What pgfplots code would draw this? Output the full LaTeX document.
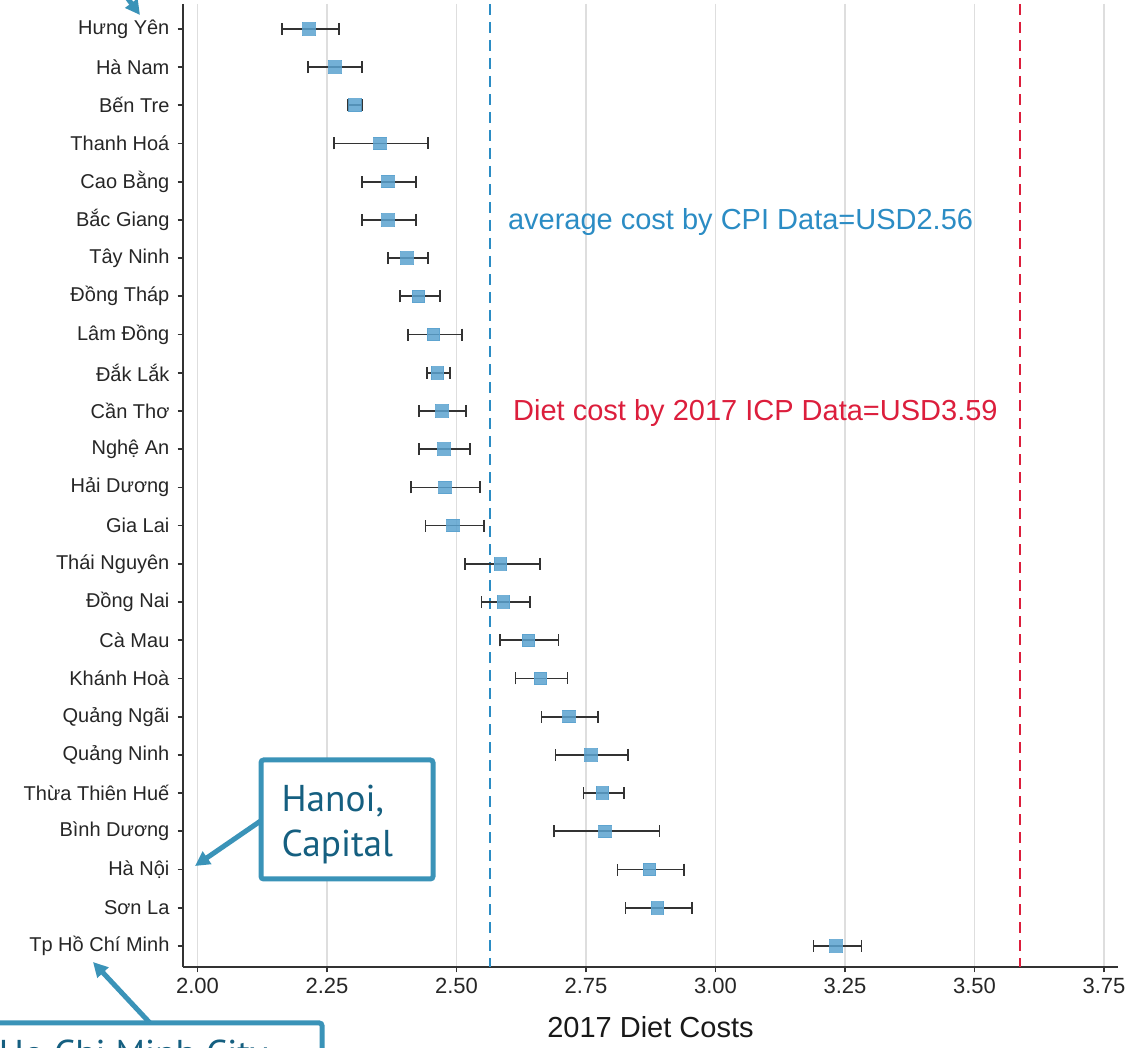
\documentclass[border=0pt]{standalone}
\usepackage{pgfplots}
\pgfplotsset{compat=1.18}
\usepackage{pgfplotstable}
\usepackage{fontspec}
\setmainfont{Liberation Sans}
\newfontfamily\ptsans{PT Sans}
\usetikzlibrary{arrows.meta}
\definecolor{ptblue}{HTML}{5AA2CF}
\definecolor{avgblue}{HTML}{2B8CC4}
\definecolor{dietred}{HTML}{DC1E3C}
\definecolor{teal1}{HTML}{3A93B8}
\definecolor{tealtxt}{HTML}{155F80}
\definecolor{gridc}{HTML}{DEDEDE}
\definecolor{axc}{HTML}{333333}

\pgfplotstableread{
y x lo hi
1 2.215 2.163 2.273
2 2.265 2.213 2.317
3 2.304 2.290 2.317
4 2.352 2.263 2.445
5 2.368 2.317 2.422
6 2.368 2.317 2.422
7 2.404 2.368 2.445
8 2.427 2.391 2.468
9 2.456 2.406 2.510
10 2.463 2.443 2.487
11 2.472 2.427 2.518
12 2.476 2.427 2.526
13 2.478 2.412 2.545
14 2.493 2.440 2.553
15 2.585 2.517 2.661
16 2.591 2.548 2.642
17 2.639 2.584 2.697
18 2.662 2.614 2.714
19 2.717 2.664 2.773
20 2.760 2.691 2.831
21 2.782 2.745 2.824
22 2.787 2.688 2.892
23 2.873 2.811 2.939
24 2.888 2.826 2.954
25 3.233 3.189 3.282
}\diettable

\begin{document}
\begin{tikzpicture}
\useasboundingbox (0,0) rectangle (847.5pt,786pt);
\begin{scope}
\clip (0,0) rectangle (847.5pt,786pt);
\begin{axis}[
  at={(137.25pt,60.75pt)}, anchor=south west,
  scale only axis, width=701.25pt, height=722.25pt,
  xmin=1.972, xmax=3.777,
  ymin=0.35, ymax=25.55, y dir=reverse,
  axis x line*=bottom, axis y line*=left,
  axis line style={axc, line width=1.5pt},
  xtick={2,2.25,2.5,2.75,3,3.25,3.5,3.75},
  xticklabels={2.00,2.25,2.50,2.75,3.00,3.25,3.50,3.75},
  ytick={1,...,25},
  yticklabels={Hưng Yên,Hà Nam,Bến Tre,Thanh Hoá,Cao Bằng,Bắc Giang,Tây Ninh,Đồng Tháp,Lâm Đồng,Đắk Lắk,Cần Thơ,Nghệ An,Hải Dương,Gia Lai,Thái Nguyên,Đồng Nai,Cà Mau,Khánh Hoà,Quảng Ngãi,Quảng Ninh,Thừa Thiên Huế,Bình Dương,Hà Nội,Sơn La,Tp Hồ Chí Minh},
  tick align=outside,
  major tick length=4pt,
  tick style={axc, line width=1.3pt},
  xmajorgrids,
  grid style={gridc, line width=1.4pt},
  yticklabel style={font=\fontsize{15}{18}\selectfont, text=black!85, inner sep=0pt, xshift=-6pt},
  xticklabel style={font=\fontsize{16.5}{20}\selectfont, text=black!85, inner sep=0pt, yshift=-4pt},
  /pgf/number format/assume math mode=true,
  xlabel={2017 Diet Costs},
  xlabel style={font=\fontsize{21.75}{26}\selectfont, text=black!90, at={(axis description cs:0.5,0)}, anchor=center, yshift=-45pt},
  clip=false,
]
\addplot[avgblue, line width=1.5pt, dash pattern=on 8pt off 5.5pt] coordinates {(2.564,0.35) (2.564,25.55)};
\addplot[dietred, line width=1.5pt, dash pattern=on 8pt off 5.5pt] coordinates {(3.587,0.35) (3.587,25.55)};
\addplot[only marks, mark=square*, mark size=4.7pt,
  mark options={fill=ptblue, draw=ptblue, opacity=0.85, line width=0pt},
  error bars/.cd, x dir=both, x explicit,
  error bar style={axc, line width=1.3pt},
  error mark options={axc, line width=1.3pt, mark size=4.5pt, rotate=90}]
  table[x=x, y=y, x error plus expr=\thisrow{hi}-\thisrow{x}, x error minus expr=\thisrow{x}-\thisrow{lo}] {\diettable};
\node[anchor=west, text=avgblue, font=\fontsize{21.75}{26}\selectfont, inner sep=0pt] at (axis cs:2.599,6.05) {average cost by CPI Data=USD2.56};
\node[anchor=west, text=dietred, font=\fontsize{21.75}{26}\selectfont, inner sep=0pt] at (axis cs:2.609,11.05) {Diet cost by 2017 ICP Data=USD3.59};
\end{axis}
% callouts
\draw[teal1, line width=3.75pt, -{Triangle[length=11pt,width=11pt]}] (196.5pt,171pt) -- (146.25pt,136.5pt);
\draw[teal1, line width=3.75pt, rounded corners=2pt, fill=white] (195.75pt,126.75pt) rectangle (324.75pt,216pt);
\node[anchor=base west, text=tealtxt, font=\ptsans\fontsize{28}{34}\selectfont, inner sep=0pt] at (211pt,177pt) {Hanoi,};
\node[anchor=base west, text=tealtxt, font=\ptsans\fontsize{28}{34}\selectfont, inner sep=0pt] at (211pt,143.25pt) {Capital};
\draw[teal1, line width=3.75pt, -{Triangle[length=11pt,width=11pt]}] (112.5pt,18.75pt) -- (69.75pt,64.5pt);
\draw[teal1, line width=3.75pt, rounded corners=2pt, fill=white] (-20pt,-60pt) rectangle (241.5pt,18.75pt);
\node[anchor=base west, text=tealtxt, font=\ptsans\fontsize{28}{34}\selectfont, inner sep=0pt] at (-1pt,-14pt) {Ho Chi Minh City};
\draw[teal1, line width=3.75pt, -{Triangle[length=11pt,width=11pt]}] (86.25pt,800pt) -- (105pt,774.75pt);
\end{scope}
\end{tikzpicture}
\end{document}
